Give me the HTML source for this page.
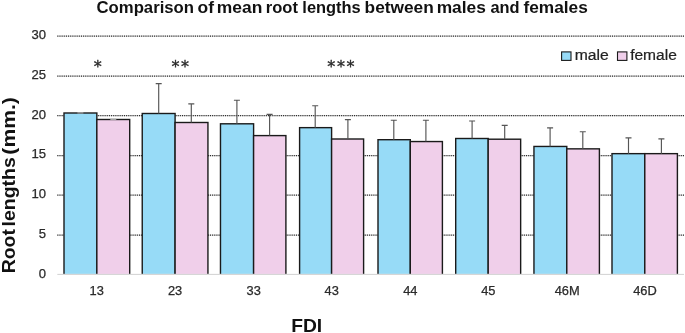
<!DOCTYPE html>
<html><head><meta charset="utf-8"><title>Comparison of mean root lengths between males and females</title>
<style>html,body{margin:0;padding:0;background:#fff;}svg{display:block;}text{font-family:"Liberation Sans",sans-serif;}</style></head><body>
<svg width="685" height="333" viewBox="0 0 685 333">
<rect width="685" height="333" fill="#fff"/>
<line x1="57.3" y1="36.0" x2="684" y2="36.0" stroke="#dadada" stroke-width="1.25"/>
<line x1="57.3" y1="36.0" x2="684" y2="36.0" stroke="#2c2c2c" stroke-width="1.25" stroke-dasharray="1.05 1.1"/>
<line x1="57.3" y1="76.0" x2="684" y2="76.0" stroke="#dadada" stroke-width="1.25"/>
<line x1="57.3" y1="76.0" x2="684" y2="76.0" stroke="#2c2c2c" stroke-width="1.25" stroke-dasharray="1.05 1.1"/>
<line x1="57.3" y1="115.5" x2="684" y2="115.5" stroke="#dadada" stroke-width="1.25"/>
<line x1="57.3" y1="115.5" x2="684" y2="115.5" stroke="#2c2c2c" stroke-width="1.25" stroke-dasharray="1.05 1.1"/>
<line x1="57.3" y1="155.5" x2="684" y2="155.5" stroke="#dadada" stroke-width="1.25"/>
<line x1="57.3" y1="155.5" x2="684" y2="155.5" stroke="#2c2c2c" stroke-width="1.25" stroke-dasharray="1.05 1.1"/>
<line x1="57.3" y1="195.0" x2="684" y2="195.0" stroke="#dadada" stroke-width="1.25"/>
<line x1="57.3" y1="195.0" x2="684" y2="195.0" stroke="#2c2c2c" stroke-width="1.25" stroke-dasharray="1.05 1.1"/>
<line x1="57.3" y1="235.0" x2="684" y2="235.0" stroke="#dadada" stroke-width="1.25"/>
<line x1="57.3" y1="235.0" x2="684" y2="235.0" stroke="#2c2c2c" stroke-width="1.25" stroke-dasharray="1.05 1.1"/>
<rect x="64.00" y="113.00" width="32.85" height="169.40" fill="#97dbf7" stroke="#1a1a1a" stroke-width="1.4"/>
<rect x="96.85" y="119.50" width="32.85" height="162.90" fill="#f0cfea" stroke="#1a1a1a" stroke-width="1.4"/>
<path d="M77.40 112.80H83.40M110.30 119.30H116.30" stroke="#a4a4a4" stroke-width="1.15" fill="none"/>
<rect x="142.24" y="113.50" width="32.85" height="168.90" fill="#97dbf7" stroke="#1a1a1a" stroke-width="1.4"/>
<rect x="175.09" y="122.50" width="32.85" height="159.90" fill="#f0cfea" stroke="#1a1a1a" stroke-width="1.4"/>
<path d="M158.70 113.50V83.60M155.70 83.60H161.70M191.30 122.50V103.80M188.30 103.80H194.30" stroke="#555" stroke-width="1.15" fill="none"/>
<rect x="220.48" y="123.80" width="33.12" height="158.60" fill="#97dbf7" stroke="#1a1a1a" stroke-width="1.4"/>
<rect x="253.60" y="135.60" width="32.30" height="146.80" fill="#f0cfea" stroke="#1a1a1a" stroke-width="1.4"/>
<path d="M236.90 123.80V100.20M233.90 100.20H239.90M269.60 135.60V114.30M266.60 114.30H272.60" stroke="#555" stroke-width="1.15" fill="none"/>
<rect x="299.60" y="127.65" width="32.00" height="154.75" fill="#97dbf7" stroke="#1a1a1a" stroke-width="1.4"/>
<rect x="331.60" y="139.00" width="32.00" height="143.40" fill="#f0cfea" stroke="#1a1a1a" stroke-width="1.4"/>
<path d="M315.20 127.65V105.70M312.20 105.70H318.20M347.90 139.00V119.60M344.90 119.60H350.90" stroke="#555" stroke-width="1.15" fill="none"/>
<rect x="378.00" y="139.70" width="32.30" height="142.70" fill="#97dbf7" stroke="#1a1a1a" stroke-width="1.4"/>
<rect x="410.30" y="141.55" width="32.10" height="140.85" fill="#f0cfea" stroke="#1a1a1a" stroke-width="1.4"/>
<path d="M393.80 139.70V120.20M390.80 120.20H396.80M425.90 141.55V120.20M422.90 120.20H428.90" stroke="#555" stroke-width="1.15" fill="none"/>
<rect x="455.70" y="138.50" width="32.50" height="143.90" fill="#97dbf7" stroke="#1a1a1a" stroke-width="1.4"/>
<rect x="488.20" y="139.20" width="32.45" height="143.20" fill="#f0cfea" stroke="#1a1a1a" stroke-width="1.4"/>
<path d="M472.10 138.50V121.00M469.10 121.00H475.10M504.70 139.20V125.30M501.70 125.30H507.70" stroke="#555" stroke-width="1.15" fill="none"/>
<rect x="533.95" y="146.45" width="32.85" height="135.95" fill="#97dbf7" stroke="#1a1a1a" stroke-width="1.4"/>
<rect x="566.80" y="148.85" width="32.60" height="133.55" fill="#f0cfea" stroke="#1a1a1a" stroke-width="1.4"/>
<path d="M550.10 146.45V127.80M547.10 127.80H553.10M582.80 148.85V131.70M579.80 131.70H585.80" stroke="#555" stroke-width="1.15" fill="none"/>
<rect x="612.00" y="153.65" width="32.80" height="128.75" fill="#97dbf7" stroke="#1a1a1a" stroke-width="1.4"/>
<rect x="644.80" y="153.65" width="32.60" height="128.75" fill="#f0cfea" stroke="#1a1a1a" stroke-width="1.4"/>
<path d="M628.50 153.65V137.90M625.50 137.90H631.50M661.40 153.65V138.90M658.40 138.90H664.40" stroke="#555" stroke-width="1.15" fill="none"/>
<rect x="0" y="273.9" width="685" height="60" fill="#fff"/>
<line x1="57.3" y1="274.4" x2="684" y2="274.4" stroke="#d2d2d2" stroke-width="1"/>
<text x="31.50" y="39.1" font-size="12" textLength="14.55" lengthAdjust="spacingAndGlyphs" fill="#2b2b2b" stroke="#2b2b2b" stroke-width="0.25">30</text>
<text x="31.50" y="78.6" font-size="12" textLength="14.55" lengthAdjust="spacingAndGlyphs" fill="#2b2b2b" stroke="#2b2b2b" stroke-width="0.25">25</text>
<text x="31.50" y="118.7" font-size="12" textLength="14.55" lengthAdjust="spacingAndGlyphs" fill="#2b2b2b" stroke="#2b2b2b" stroke-width="0.25">20</text>
<text x="31.50" y="158.3" font-size="12" textLength="14.55" lengthAdjust="spacingAndGlyphs" fill="#2b2b2b" stroke="#2b2b2b" stroke-width="0.25">15</text>
<text x="31.50" y="198.4" font-size="12" textLength="14.55" lengthAdjust="spacingAndGlyphs" fill="#2b2b2b" stroke="#2b2b2b" stroke-width="0.25">10</text>
<text x="38.76" y="237.5" font-size="12" textLength="7.27" lengthAdjust="spacingAndGlyphs" fill="#2b2b2b" stroke="#2b2b2b" stroke-width="0.25">5</text>
<text x="38.76" y="277.6" font-size="12" textLength="7.27" lengthAdjust="spacingAndGlyphs" fill="#2b2b2b" stroke="#2b2b2b" stroke-width="0.25">0</text>
<text x="89.53" y="295" font-size="12" textLength="14.28" lengthAdjust="spacingAndGlyphs" fill="#2b2b2b" stroke="#2b2b2b" stroke-width="0.25">13</text>
<text x="167.93" y="295" font-size="12" textLength="14.28" lengthAdjust="spacingAndGlyphs" fill="#2b2b2b" stroke="#2b2b2b" stroke-width="0.25">23</text>
<text x="246.51" y="295" font-size="12" textLength="14.28" lengthAdjust="spacingAndGlyphs" fill="#2b2b2b" stroke="#2b2b2b" stroke-width="0.25">33</text>
<text x="324.60" y="295" font-size="12" textLength="14.28" lengthAdjust="spacingAndGlyphs" fill="#2b2b2b" stroke="#2b2b2b" stroke-width="0.25">43</text>
<text x="403.21" y="295" font-size="12" textLength="14.28" lengthAdjust="spacingAndGlyphs" fill="#2b2b2b" stroke="#2b2b2b" stroke-width="0.25">44</text>
<text x="481.17" y="295" font-size="12" textLength="14.28" lengthAdjust="spacingAndGlyphs" fill="#2b2b2b" stroke="#2b2b2b" stroke-width="0.25">45</text>
<text x="554.70" y="295" font-size="12" textLength="24.98" lengthAdjust="spacingAndGlyphs" fill="#2b2b2b" stroke="#2b2b2b" stroke-width="0.25">46M</text>
<text x="633.18" y="295" font-size="12" textLength="23.56" lengthAdjust="spacingAndGlyphs" fill="#2b2b2b" stroke="#2b2b2b" stroke-width="0.25">46D</text>
<text y="12.5" font-size="16.4" font-weight="bold" fill="#111"><tspan x="96.53" textLength="97.45" lengthAdjust="spacingAndGlyphs">Comparison</tspan> <tspan x="197.50" textLength="16.48" lengthAdjust="spacingAndGlyphs">of</tspan> <tspan x="216.87" textLength="45.52" lengthAdjust="spacingAndGlyphs">mean</tspan> <tspan x="265.72" textLength="32.21" lengthAdjust="spacingAndGlyphs">root</tspan> <tspan x="302.35" textLength="58.42" lengthAdjust="spacingAndGlyphs">lengths</tspan> <tspan x="364.58" textLength="69.18" lengthAdjust="spacingAndGlyphs">between</tspan> <tspan x="436.67" textLength="49.23" lengthAdjust="spacingAndGlyphs">males</tspan> <tspan x="490.41" textLength="29.10" lengthAdjust="spacingAndGlyphs">and</tspan> <tspan x="523.44" textLength="64.34" lengthAdjust="spacingAndGlyphs">females</tspan></text>
<text x="291.15" y="331.6" font-size="18.2" textLength="31.02" lengthAdjust="spacingAndGlyphs" font-weight="bold" fill="#111">FDI</text>
<text transform="translate(14.7 0) rotate(-90)" y="0" font-size="19" font-weight="bold" fill="#111"><tspan x="-273.36" textLength="44.30" lengthAdjust="spacingAndGlyphs">Root</tspan> <tspan x="-226.46" textLength="69.15" lengthAdjust="spacingAndGlyphs">lengths</tspan> <tspan x="-154.66" textLength="57.55" lengthAdjust="spacingAndGlyphs">(mm.)</tspan></text>
<rect x="561.6" y="51.9" width="9.4" height="8.5" fill="#97dbf7" stroke="#1a1a1a" stroke-width="1.1"/>
<text x="574.78" y="60.4" font-size="14" textLength="34.07" lengthAdjust="spacingAndGlyphs" fill="#222" stroke="#222" stroke-width="0.2">male</text>
<rect x="617.5" y="51.9" width="9.4" height="8.5" fill="#f0cfea" stroke="#1a1a1a" stroke-width="1.1"/>
<text x="630.17" y="60.4" font-size="14" textLength="46.66" lengthAdjust="spacingAndGlyphs" fill="#222" stroke="#222" stroke-width="0.2">female</text>
<text x="97.8" y="72.1" style="font-family:'DejaVu Sans',sans-serif" font-size="16" text-anchor="middle" fill="#2a2a2a" stroke="#2a2a2a" stroke-width="0.35">*</text>
<text x="175.5 185.0" y="72.1" style="font-family:'DejaVu Sans',sans-serif" font-size="16" text-anchor="middle" fill="#2a2a2a" stroke="#2a2a2a" stroke-width="0.35">**</text>
<text x="331.3 340.9 350.6" y="72.1" style="font-family:'DejaVu Sans',sans-serif" font-size="16" text-anchor="middle" fill="#2a2a2a" stroke="#2a2a2a" stroke-width="0.35">***</text>
</svg></body></html>
